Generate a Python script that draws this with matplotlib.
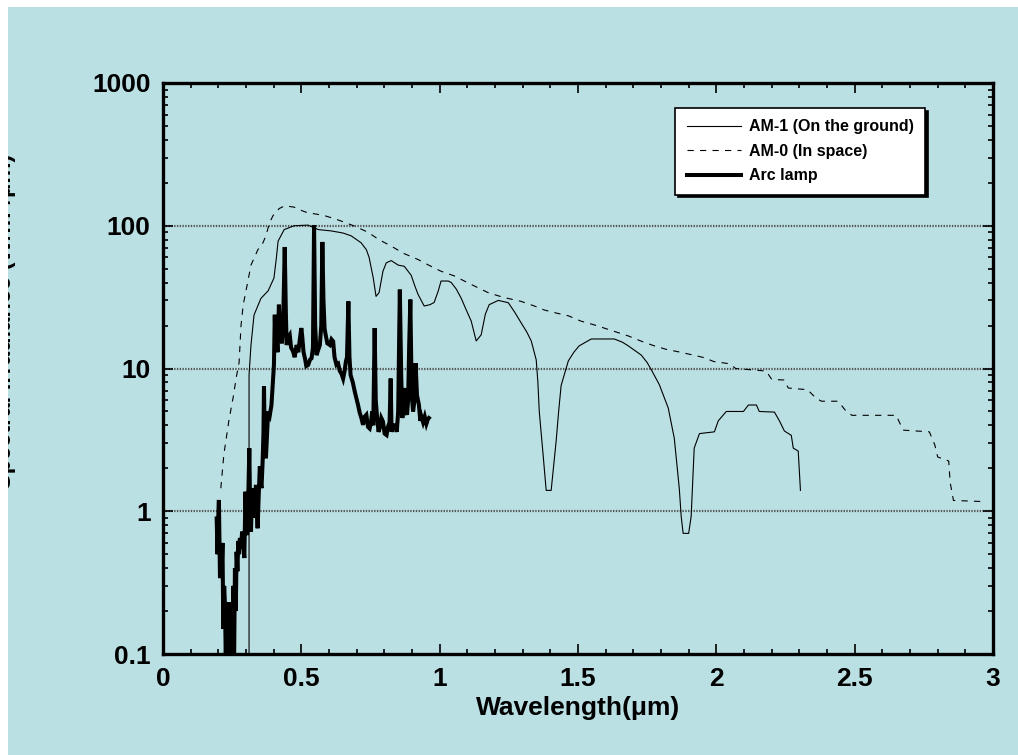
import matplotlib.pyplot as plt
from matplotlib.patches import Rectangle
from matplotlib.ticker import FixedLocator, MultipleLocator, LogLocator, NullFormatter

# AM-1: sunlight at ground level (wavelength in um, irradiance)
am1_wl = [0.311, 0.311, 0.318, 0.329, 0.354, 0.38, 0.401, 0.41, 0.416, 0.438, 0.474,
          0.524, 0.561, 0.608, 0.65, 0.68, 0.716, 0.735, 0.745, 0.755, 0.76, 0.77,
          0.781, 0.795, 0.807, 0.825, 0.85, 0.872, 0.897, 0.91, 0.922, 0.944, 0.965,
          0.98, 0.995, 1.005, 1.031, 1.042, 1.06, 1.078, 1.095, 1.114, 1.132, 1.15,
          1.165, 1.179, 1.212, 1.248, 1.27, 1.295, 1.315, 1.331, 1.349, 1.355, 1.36,
          1.374, 1.385, 1.403, 1.421, 1.43, 1.439, 1.465, 1.485, 1.504, 1.548, 1.631,
          1.66, 1.682, 1.729, 1.75, 1.765, 1.794, 1.826, 1.848, 1.866, 1.873, 1.88,
          1.90, 1.909, 1.92, 1.939, 1.993, 2.007, 2.036, 2.098, 2.116, 2.145, 2.155,
          2.21, 2.228, 2.246, 2.271, 2.278, 2.296, 2.304]
am1_irr = [0.1, 9.0, 14.6, 23.7, 31, 35, 43, 60, 78, 94, 100,
           101, 94, 92, 89, 85, 76, 68, 60, 48, 43, 32,
           34, 48, 55, 57, 53, 52, 45, 38, 33, 27.4, 28,
           29, 35, 41, 41, 40, 36, 31, 26, 21.5, 15.6, 17.2,
           24, 28, 30, 28.9, 25, 20.8, 18, 15.6, 11.5, 8, 5.0,
           2.47, 1.4, 1.4, 3.1, 5, 7.6, 11.3, 13, 14.4, 16.1, 16.1,
           15.3, 14.4, 12.4, 11, 9.8, 7.7, 5.3, 3.25, 1.45, 0.92, 0.7,
           0.7, 0.92, 2.77, 3.5, 3.6, 4.3, 5.0, 5.0, 5.55, 5.55, 5.0,
           4.95, 4.3, 3.65, 3.4, 2.77, 2.64, 1.4]

# AM-0: sunlight outside the atmosphere
am0_wl = [0.209, 0.22, 0.238, 0.255, 0.264, 0.275, 0.282, 0.29, 0.30, 0.318, 0.343,
          0.36, 0.372, 0.385, 0.398, 0.42, 0.44, 0.474, 0.50, 0.524, 0.55, 0.582,
          0.62, 0.655, 0.70, 0.741, 0.78, 0.825, 0.87, 0.922, 0.96, 1.005, 1.052,
          1.10, 1.175, 1.23, 1.295, 1.34, 1.378, 1.42, 1.465, 1.51, 1.559, 1.62,
          1.682, 1.73, 1.776, 1.82, 1.862, 1.91, 1.957, 1.99, 2.047, 2.07, 2.18,
          2.20, 2.245, 2.26, 2.33, 2.36, 2.38, 2.44, 2.47, 2.49, 2.65, 2.675, 2.77,
          2.79, 2.80, 2.84, 2.845, 2.857, 2.96]
am0_irr = [1.45, 2.5, 4.3, 6.5, 8.5, 11, 20, 28, 35, 53, 68,
           75, 85, 105, 118, 132, 138, 135, 128, 123, 121, 118,
           112, 106, 98, 90, 80, 72, 64, 58, 53, 48, 44.6,
           40, 34, 31.5, 29.5, 27.5, 25.7, 24.5, 23.4, 21.5, 20.2, 18.5,
           16.9, 15.5, 14.4, 13.6, 13.1, 12.5, 11.9, 11.2, 10.8, 10.0, 9.6,
           8.4, 8.3, 7.3, 7.1, 6.2, 5.9, 5.9, 5.0, 4.7, 4.7, 3.7, 3.6,
           2.9, 2.4, 2.25, 1.6, 1.19, 1.17]

# xenon arc lamp spectrum
arc_wl = [0.194, 0.197, 0.200, 0.202, 0.204, 0.206, 0.209, 0.212, 0.215, 0.218,
          0.221, 0.224, 0.227, 0.230, 0.233, 0.236, 0.238, 0.241, 0.245, 0.248,
          0.251, 0.254, 0.257, 0.260, 0.263, 0.266, 0.269, 0.272, 0.275, 0.278,
          0.282, 0.286, 0.290, 0.294, 0.298, 0.301, 0.304, 0.308, 0.312, 0.315,
          0.318, 0.321, 0.324, 0.327, 0.330, 0.333, 0.336, 0.339, 0.342, 0.346,
          0.350, 0.353, 0.356, 0.360, 0.363, 0.365, 0.368, 0.372, 0.376, 0.380,
          0.386, 0.392, 0.398,
          0.401, 0.404, 0.407, 0.410, 0.414, 0.419, 0.422, 0.426, 0.430, 0.434,
          0.440, 0.444, 0.447, 0.452, 0.458, 0.463, 0.470, 0.476, 0.483, 0.489,
          0.495, 0.500, 0.503, 0.508, 0.513, 0.518, 0.525, 0.531, 0.537, 0.542,
          0.546, 0.550, 0.555, 0.561, 0.567, 0.572, 0.576, 0.580, 0.584, 0.588,
          0.594, 0.603, 0.609, 0.615, 0.620, 0.627, 0.633, 0.639, 0.645, 0.651,
          0.656, 0.661, 0.665, 0.670, 0.674, 0.678, 0.686, 0.693, 0.699, 0.705,
          0.711, 0.717, 0.723, 0.729, 0.735, 0.741, 0.747, 0.752, 0.756, 0.760,
          0.765, 0.769, 0.774, 0.779, 0.783, 0.789, 0.795, 0.801, 0.808, 0.813,
          0.819, 0.823, 0.826, 0.832, 0.838, 0.845, 0.850, 0.856, 0.861, 0.865,
          0.870, 0.874, 0.878, 0.882, 0.886, 0.890, 0.894, 0.899, 0.904, 0.909,
          0.913, 0.918, 0.925, 0.930, 0.934, 0.940, 0.946, 0.952, 0.957, 0.961]
arc_irr = [0.89, 0.5, 0.95, 1.2, 0.6, 0.34, 0.55, 0.38, 0.6, 0.15,
           0.3, 0.22, 0.09, 0.23, 0.12, 0.2, 0.09, 0.23, 0.11, 0.22,
           0.09, 0.30, 0.09, 0.40, 0.2, 0.52, 0.38, 0.62, 0.5, 0.65,
           0.55, 0.72, 0.6, 0.47, 1.37, 0.8, 0.68, 1.2, 2.76, 1.0,
           0.72, 1.2, 1.45, 0.9, 1.1, 1.3, 1.53, 1.0, 0.76, 1.3,
           2.06, 1.6, 1.45, 2.2, 3.5, 7.5, 3.0, 2.35, 3.4, 5.0,
           4.7, 5.55, 8.6,
           10.6, 23.8, 14, 17.2, 13, 28, 20, 18.2, 15, 20,
           71, 25, 14.6, 16.5, 17.2, 14, 13.2, 12, 14.6, 13,
           16.3, 19.2, 17, 13, 11.8, 10.4, 10.6, 11.5, 11.8, 14,
           101, 20, 12.4, 13.5, 14.6, 20, 77, 30, 19, 17.2,
           15, 14.6, 16, 15.5, 12, 10.6, 10.8, 9.6, 9.2, 8.5,
           9.5, 11.2, 12, 29.5, 12, 9.0, 8.0, 6.9, 6.2, 5.55,
           4.9, 4.5, 4.03, 4.6, 4.74, 3.9, 3.8, 4.2, 5.0, 4.0,
           19.2, 6.0, 4.5, 3.6, 3.8, 4.5, 4.25, 3.5, 3.42, 3.9,
           4.2, 8.5, 3.6, 4.0, 4.0, 3.6, 5.0, 35.7, 9.0, 4.5,
           5.5, 7.3, 5.0, 4.74, 6.0, 15, 30.4, 6.5, 5.0, 6.0,
           10.9, 6.5, 5.55, 4.3, 4.6, 4.2, 4.6, 4.1, 4.4, 4.5]

series_labels = ['AM-1 (On the ground)', 'AM-0 (In space)', 'Arc lamp']
x_ticks = [0, 0.5, 1, 1.5, 2, 2.5, 3]
x_tick_labels = ['0', '0.5', '1', '1.5', '2', '2.5', '3']
y_ticks = [0.1, 1, 10, 100, 1000]
y_tick_labels = ['0.1', '1', '10', '100', '1000']

BG = '#BBE0E3'
plt.rcParams['font.family'] = ['Liberation Sans', 'DejaVu Sans']
plt.rcParams['font.weight'] = 'bold'
plt.rcParams['lines.scale_dashes'] = False

W, H = 1018, 755
fig = plt.figure(figsize=(W / 100, H / 100), dpi=100, facecolor=BG)
ax = fig.add_axes([163 / W, 1 - 654 / H, 830 / W, 571 / H])
ax.set_facecolor(BG)
ax.set_yscale('log')
ax.set_xlim(0, 3)
ax.set_ylim(0.1, 1000)

ax.plot(am1_wl, am1_irr, color='black', lw=0.8, label=series_labels[0])
ax.plot(am0_wl, am0_irr, color='black', lw=0.8, dashes=(4.5, 4.5), label=series_labels[1])
ax.plot(arc_wl, arc_irr, color='black', lw=2.9, solid_joinstyle='miter',
        label=series_labels[2])

# dotted lines at 1, 10, 100
for yv in y_ticks[1:-1]:
    ax.axhline(yv, color='#555555', lw=1.6, ls=(0, (1, 1)), zorder=1)

ax.xaxis.set_major_locator(FixedLocator(x_ticks))
ax.set_xticklabels(x_tick_labels)
ax.xaxis.set_minor_locator(MultipleLocator(0.1))
ax.yaxis.set_major_locator(FixedLocator(y_ticks))
ax.set_yticklabels(y_tick_labels)
ax.yaxis.set_minor_locator(LogLocator(base=10, subs=range(2, 10)))
ax.yaxis.set_minor_formatter(NullFormatter())
ax.tick_params(which='both', direction='in', top=True, right=True, width=1.2,
               labelsize=19, pad=9)
ax.tick_params(which='major', length=7)
ax.tick_params(which='minor', length=3.5)
for lab in ax.get_xticklabels() + ax.get_yticklabels():
    lab.set_fontweight('bold')
for sp in ax.spines.values():
    sp.set_linewidth(2.4)

ax.set_xlabel('Wavelength(μm)', fontsize=19, fontweight='bold', labelpad=4)

leg = ax.legend(loc='upper right', bbox_to_anchor=(0.918, 0.956), borderaxespad=0,
                fancybox=False, shadow={'color': 'black', 'alpha': 1},
                prop={'size': 11.5, 'weight': 'bold'}, handlelength=3.4,
                handletextpad=0.5, labelspacing=0.6, borderpad=0.7)
leg.get_frame().set_edgecolor('black')
leg.get_frame().set_linewidth(1.2)
leg.get_frame().set_alpha(1)

fig.text(11 / W, 1 - 321 / H, 'Spectral Irradiance (W/m²/μm)', rotation=90,
         rotation_mode='anchor', ha='center', va='baseline', fontsize=17,
         fontweight='bold')

# white margin around the panel
fig.add_artist(Rectangle((0, 0), 8 / W, 1, transform=fig.transFigure,
                         facecolor='white', edgecolor='none', zorder=10))
fig.add_artist(Rectangle((0, 1 - 7 / H), 1, 7 / H, transform=fig.transFigure,
                         facecolor='white', edgecolor='none', zorder=10))

fig.savefig('out.png', dpi=100, facecolor=BG)
